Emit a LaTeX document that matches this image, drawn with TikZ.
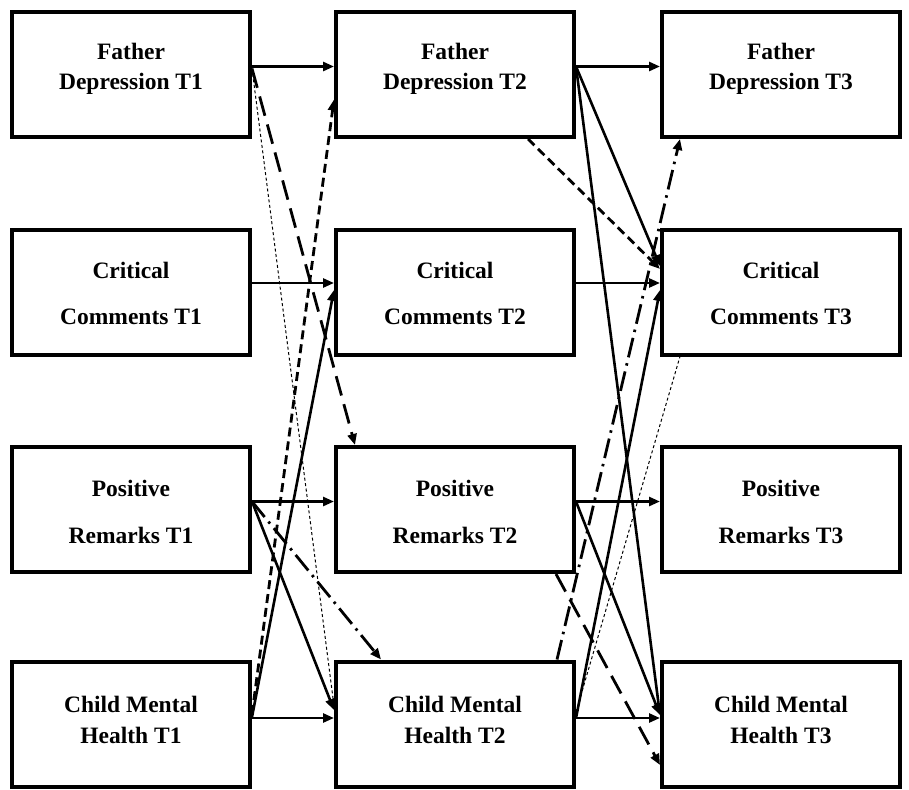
\documentclass[tikz,border=0pt]{standalone}
\usepackage{fontspec}
\setmainfont{Liberation Serif}
\usetikzlibrary{arrows.meta}
\begin{document}
\begin{tikzpicture}[x=1pt,y=-1pt,
  box/.style={draw=black,line width=4pt,minimum width=238pt,minimum height=125pt,inner sep=0pt},
  lbl/.style={anchor=base,font=\fontsize{23.5}{26}\selectfont\bfseries,inner sep=0pt},
  tip/.style={-{Triangle[length=11pt,width=9pt]}},
  solidarr/.style={tip,line width=2.6pt},
  dasharr/.style={tip,line width=2.8pt,dash pattern=on 9pt off 5pt},
  longdasharr/.style={tip,line width=2.8pt,dash pattern=on 20pt off 9pt},
  dashdotarr/.style={tip,line width=2.8pt,dash pattern=on 20pt off 6pt on 2.5pt off 6pt},
  dotline/.style={line width=1pt,dash pattern=on 3pt off 2.5pt}]
\fill[white] (0,0) rectangle (909,789);
\useasboundingbox (0,0) rectangle (909,789);
% boxes
\node[box] (fd1) at (131,74.5) {};
\node[box] (cc1) at (131,292) {};
\node[box] (pr1) at (131,509.5) {};
\node[box] (ch1) at (131,724) {};
\node[box] (fd2) at (455,74.5) {};
\node[box] (cc2) at (455,292) {};
\node[box] (pr2) at (455,509.5) {};
\node[box] (ch2) at (455,724) {};
\node[box] (fd3) at (781,74.5) {};
\node[box] (cc3) at (781,292) {};
\node[box] (pr3) at (781,509.5) {};
\node[box] (ch3) at (781,724) {};
% texts
\node[lbl] (fd1a) at (131,60) {Father};
\node[lbl] (fd1b) at (131,90) {Depression T1};
\node[lbl] (cc1a) at (131,278) {Critical};
\node[lbl] (cc1b) at (131,324) {Comments T1};
\node[lbl] (pr1a) at (131,496) {Positive};
\node[lbl] (pr1b) at (131,543) {Remarks T1};
\node[lbl] (ch1a) at (131,712) {Child Mental};
\node[lbl] (ch1b) at (131,743) {Health T1};
\node[lbl] (fd2a) at (455,60) {Father};
\node[lbl] (fd2b) at (455,90) {Depression T2};
\node[lbl] (cc2a) at (455,278) {Critical};
\node[lbl] (cc2b) at (455,324) {Comments T2};
\node[lbl] (pr2a) at (455,496) {Positive};
\node[lbl] (pr2b) at (455,543) {Remarks T2};
\node[lbl] (ch2a) at (455,712) {Child Mental};
\node[lbl] (ch2b) at (455,743) {Health T2};
\node[lbl] (fd3a) at (781,60) {Father};
\node[lbl] (fd3b) at (781,90) {Depression T3};
\node[lbl] (cc3a) at (781,278) {Critical};
\node[lbl] (cc3b) at (781,324) {Comments T3};
\node[lbl] (pr3a) at (781,496) {Positive};
\node[lbl] (pr3b) at (781,543) {Remarks T3};
\node[lbl] (ch3a) at (781,712) {Child Mental};
\node[lbl] (ch3b) at (781,743) {Health T3};
% autoregressive paths
\draw[solidarr] ([yshift=8pt]fd1.east) -- ([yshift=8pt]fd2.west);
\draw[solidarr] ([yshift=9pt]cc1.east) -- ([yshift=9pt]cc2.west);
\draw[solidarr] ([yshift=8pt]pr1.east) -- ([yshift=8pt]pr2.west);
\draw[solidarr] ([yshift=6pt]ch1.east) -- ([yshift=6pt]ch2.west);
\draw[solidarr] ([yshift=8pt]fd2.east) -- ([yshift=8pt]fd3.west);
\draw[solidarr] ([yshift=9pt]cc2.east) -- ([yshift=9pt]cc3.west);
\draw[solidarr] ([yshift=8pt]pr2.east) -- ([yshift=8pt]pr3.west);
\draw[solidarr] ([yshift=6pt]ch2.east) -- ([yshift=6pt]ch3.west);
% T1 -> T2 cross-lagged
\draw[solidarr] ([yshift=7pt]ch1.east) -- ([yshift=2pt]cc2.west);
\draw[solidarr] ([yshift=8pt]pr1.east) -- ([yshift=14pt]ch2.west);
\draw[dasharr] ([yshift=10pt]ch1.east) -- ([yshift=-25pt]fd2.west);
\draw[longdasharr] ([yshift=6pt]fd1.east) -- ([xshift=-100pt]pr2.north);
\draw[dashdotarr] ([yshift=8pt]pr1.east) -- ([xshift=-74pt]ch2.north);
\draw[dotline] ([yshift=6pt]fd1.east) -- ([yshift=18pt]ch2.west);
% T2 -> T3 cross-lagged
\draw[solidarr] ([yshift=8pt]fd2.east) -- ([yshift=26pt]cc3.west);
\draw[solidarr] ([yshift=8pt]fd2.east) -- ([yshift=9pt]ch3.west);
\draw[solidarr] ([yshift=6pt]ch2.east) -- ([yshift=2pt]cc3.west);
\draw[solidarr] ([yshift=8pt]pr2.east) -- ([yshift=9pt]ch3.west);
\draw[dasharr] ([xshift=73pt]fd2.south) -- ([yshift=23pt]cc3.west);
\draw[longdasharr] ([xshift=101pt]pr2.south) -- ([yshift=-41pt]ch3.west);
\draw[dashdotarr] ([xshift=102pt]ch2.north) -- ([xshift=-101pt]fd3.south);
\draw[dotline] ([yshift=12pt]ch2.east) -- ([xshift=-101pt]cc3.south);
\end{tikzpicture}
\end{document}
